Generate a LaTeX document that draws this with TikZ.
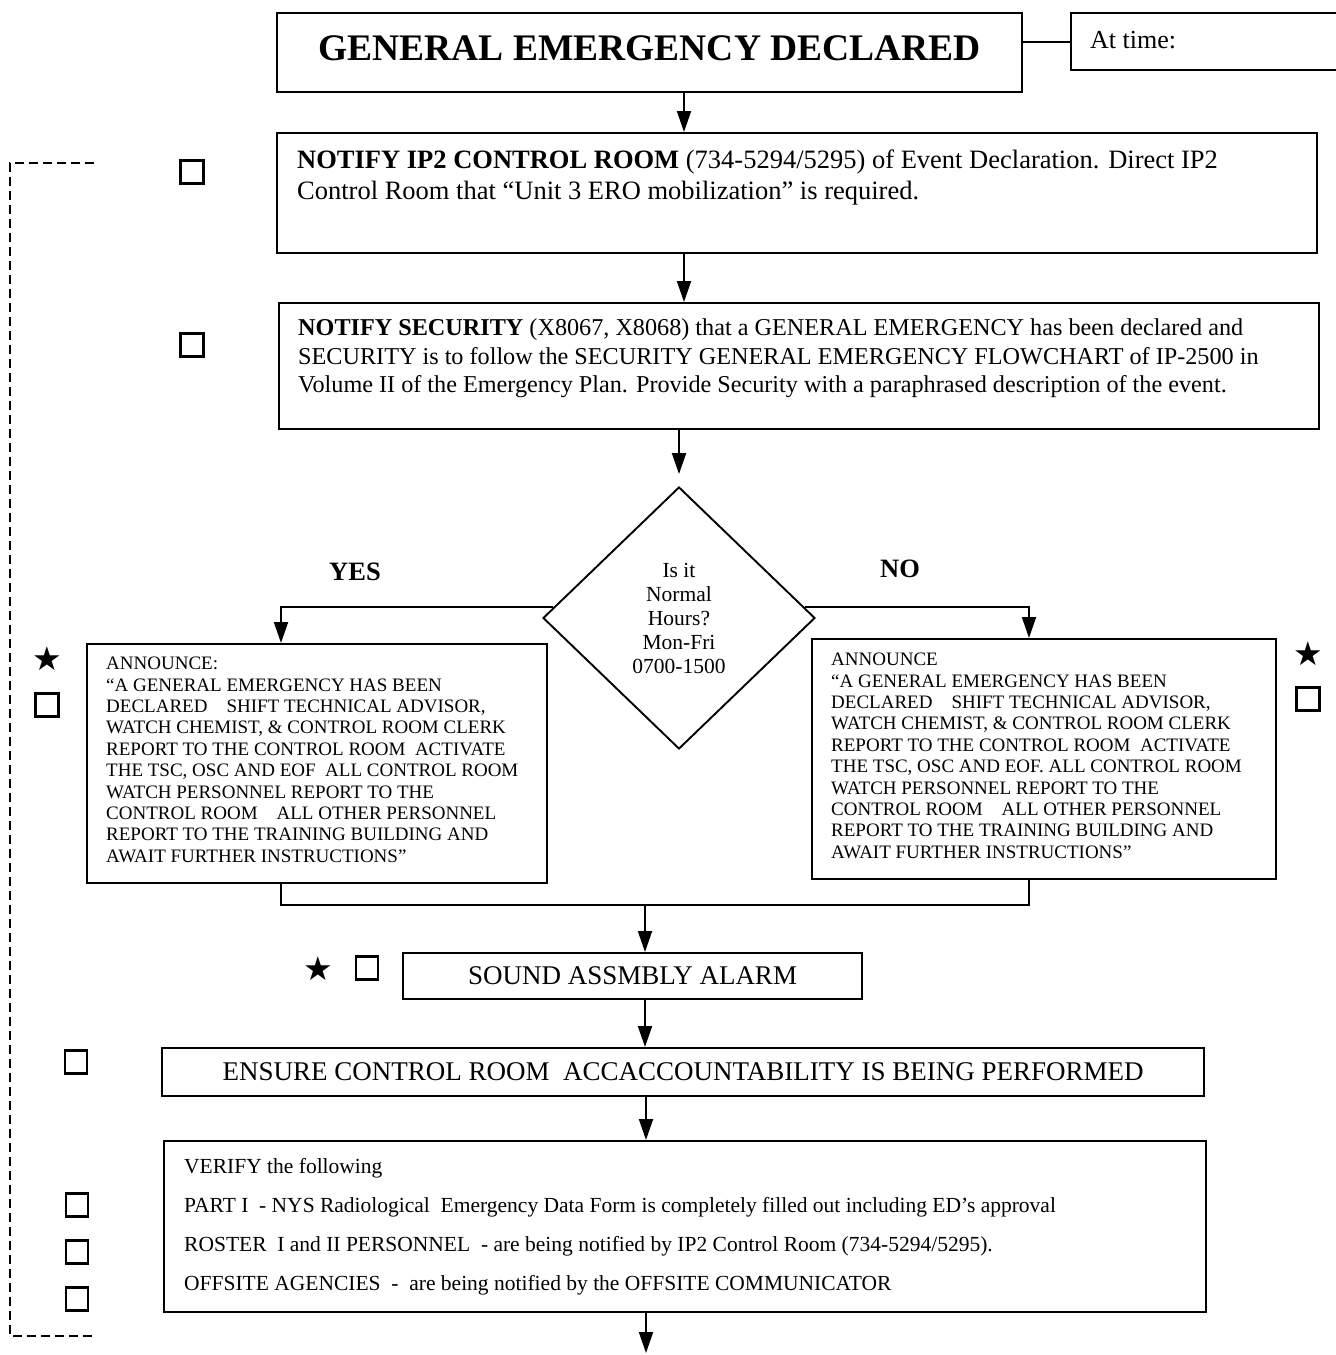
\documentclass[tikz,border=0pt]{standalone}
\usepackage{fontspec}
\setmainfont{Liberation Serif}
\newfontfamily\symfont{DejaVu Sans}
\usetikzlibrary{arrows.meta,shapes.geometric,calc}
\begin{document}
\begin{tikzpicture}[x=1pt,y=-1pt,
  box/.style={draw, line width=2.3pt, inner sep=0pt, anchor=north west},
  txt/.style={inner sep=0pt, anchor=north west, align=left},
  flow/.style={line width=1.9pt, -{Triangle[length=21pt,width=14pt]}},
  link/.style={line width=1.9pt},
  loop/.style={line width=1.6pt, dash pattern=on 9pt off 5pt},
  chk/.style={draw, line width=2.1pt, minimum width=23pt, minimum height=23pt, inner sep=0pt},
  starmark/.style={inner sep=0pt, font=\symfont\fontsize{33}{33}\selectfont},
]
\useasboundingbox (0,0) rectangle (1336,1355);

% header
\node[box, minimum width=745pt, minimum height=79pt] (ged) at (276,12) {};
\node[font=\bfseries\fontsize{37.5}{37.5}\selectfont, inner sep=0pt] (gedt) at ($(ged.center)+(0,-4)$) {GENERAL EMERGENCY DECLARED};
\node[box, minimum width=275pt, minimum height=57pt] (atbox) at (1070,12) {};
\node[txt, anchor=west, font=\fontsize{26}{26}\selectfont] (attxt) at (1090,40) {At time:};
\draw[link] (atbox.west -| ged.east) -- (atbox.west);

% notify IP2 control room
\node[box, minimum width=1040pt, minimum height=120pt] (ip2) at (276,132) {};
\node[txt, font=\fontsize{26.5}{31}\selectfont] (ip2t) at (297,150)
  {\textbf{NOTIFY IP2 CONTROL ROOM} (734-5294/5295) of Event Declaration. Direct IP2\\
   Control Room that “Unit 3 ERO mobilization” is required.};
\node[chk] (c1) at (192,172) {};
\draw[flow] (ged.south -| 684,0) -- (ip2.north -| 684,0);

% notify security
\node[box, minimum width=1040pt, minimum height=126pt] (sec) at (278,302) {};
\node[txt, font=\fontsize{24.2}{28.5}\selectfont] (sect) at (298,319)
  {\textbf{NOTIFY SECURITY} (X8067, X8068) that a GENERAL EMERGENCY has been declared and\\
   SECURITY is to follow the SECURITY GENERAL EMERGENCY FLOWCHART of IP-2500 in\\
   Volume II of the Emergency Plan. Provide Security with a paraphrased description of the event.};
\node[chk] (c2) at (192,345) {};
\draw[flow] (ip2.south -| 684,0) -- (sec.north -| 684,0);

% decision
\node[diamond, draw, line width=1.9pt, minimum width=272pt, minimum height=262pt, inner sep=0pt,
      align=center, font=\fontsize{21.5}{24}\selectfont] (dia) at (679,618)
  {Is it\\Normal\\Hours?\\Mon-Fri\\0700-1500};
\draw[flow, shorten >=12pt] (sec.south -| dia.north) -- (dia.north);
\node[font=\bfseries\fontsize{26.5}{26.5}\selectfont] (yes) at (355,572) {YES};
\node[font=\bfseries\fontsize{26.5}{26.5}\selectfont] (no) at (900,569) {NO};

% announce boxes
\node[box, minimum width=460pt, minimum height=239pt] (ann1) at (86,643) {};
\node[txt, font=\fontsize{19}{21.4}\selectfont] (ann1t) at (106,657)
  {ANNOUNCE:\\
   “A GENERAL EMERGENCY HAS BEEN\\
   DECLARED\quad SHIFT TECHNICAL ADVISOR,\\
   WATCH CHEMIST, \& CONTROL ROOM CLERK\\
   REPORT TO THE CONTROL ROOM\ \ ACTIVATE\\
   THE TSC, OSC AND EOF\ \ ALL CONTROL ROOM\\
   WATCH PERSONNEL REPORT TO THE\\
   CONTROL ROOM\quad ALL OTHER PERSONNEL\\
   REPORT TO THE TRAINING BUILDING AND\\
   AWAIT FURTHER INSTRUCTIONS”};
\node[box, minimum width=464pt, minimum height=240pt] (ann2) at (811,638) {};
\node[txt, font=\fontsize{19}{21.4}\selectfont] (ann2t) at (831,653)
  {ANNOUNCE\\
   “A GENERAL EMERGENCY HAS BEEN\\
   DECLARED\quad SHIFT TECHNICAL ADVISOR,\\
   WATCH CHEMIST, \& CONTROL ROOM CLERK\\
   REPORT TO THE CONTROL ROOM\ \ ACTIVATE\\
   THE TSC, OSC AND EOF. ALL CONTROL ROOM\\
   WATCH PERSONNEL REPORT TO THE\\
   CONTROL ROOM\quad ALL OTHER PERSONNEL\\
   REPORT TO THE TRAINING BUILDING AND\\
   AWAIT FURTHER INSTRUCTIONS”};
\coordinate (jL) at (281,905);
\coordinate (jR) at (1029,905);
\coordinate (jM) at (645,905);
\draw[flow] (dia.175) -| (ann1.north -| jL);
\draw[flow] (dia.5) -| (ann2.north -| jR);
\draw[link] (ann1.south -| jL) -- (jL) -- (jR) -- (ann2.south -| jR);
\node[starmark] (s1) at (47,659) {★};
\node[chk] (c3) at (47,705) {};
\node[starmark] (s2) at (1308,654) {★};
\node[chk] (c4) at (1308,699) {};

% assembly alarm
\node[box, minimum width=459pt, minimum height=46pt,
      font=\fontsize{27}{27}\selectfont] (snd) at (402,952) {SOUND ASSMBLY ALARM};
\node[starmark] (s3) at (318,969) {★};
\node[chk, minimum width=22pt] (c5) at (367,968) {};
\draw[flow] (jM) -- (snd.north -| jM);

% accountability
\node[box, minimum width=1042pt, minimum height=48pt,
      font=\fontsize{27}{27}\selectfont] (ens) at (161,1047)
  {ENSURE CONTROL ROOM\ \ ACCACCOUNTABILITY IS BEING PERFORMED};
\node[chk, minimum width=22pt] (c6) at (76,1062) {};
\draw[flow] (snd.south -| 645,0) -- (ens.north -| 645,0);

% verification
\node[box, minimum width=1042pt, minimum height=171pt] (ver) at (163,1140) {};
\node[txt, font=\fontsize{21.5}{39.2}\selectfont] (vert) at (184,1158)
  {VERIFY the following\\
   PART I\ \ - NYS Radiological\ \ Emergency Data Form is completely filled out including ED’s approval\\
   ROSTER\ \ I and II PERSONNEL\ \ - are being notified by IP2 Control Room (734-5294/5295).\\
   OFFSITE AGENCIES\ \ -\ \ are being notified by the OFFSITE COMMUNICATOR};
\node[chk, minimum width=22pt] (c7) at (77,1205) {};
\node[chk, minimum width=22pt] (c8) at (77,1252) {};
\node[chk, minimum width=22pt] (c9) at (77,1299) {};
\draw[flow] (ens.south -| 646,0) -- (ver.north -| 646,0);
\coordinate (out) at (646,1353);
\draw[flow] (ver.south -| out) -- (out);

% return loop
\coordinate (lt) at (94,163);
\coordinate (lb) at (94,1336);
\draw[loop] (lt) -- (10,163) -- (10,1336) -- (lb);
\end{tikzpicture}
\end{document}
